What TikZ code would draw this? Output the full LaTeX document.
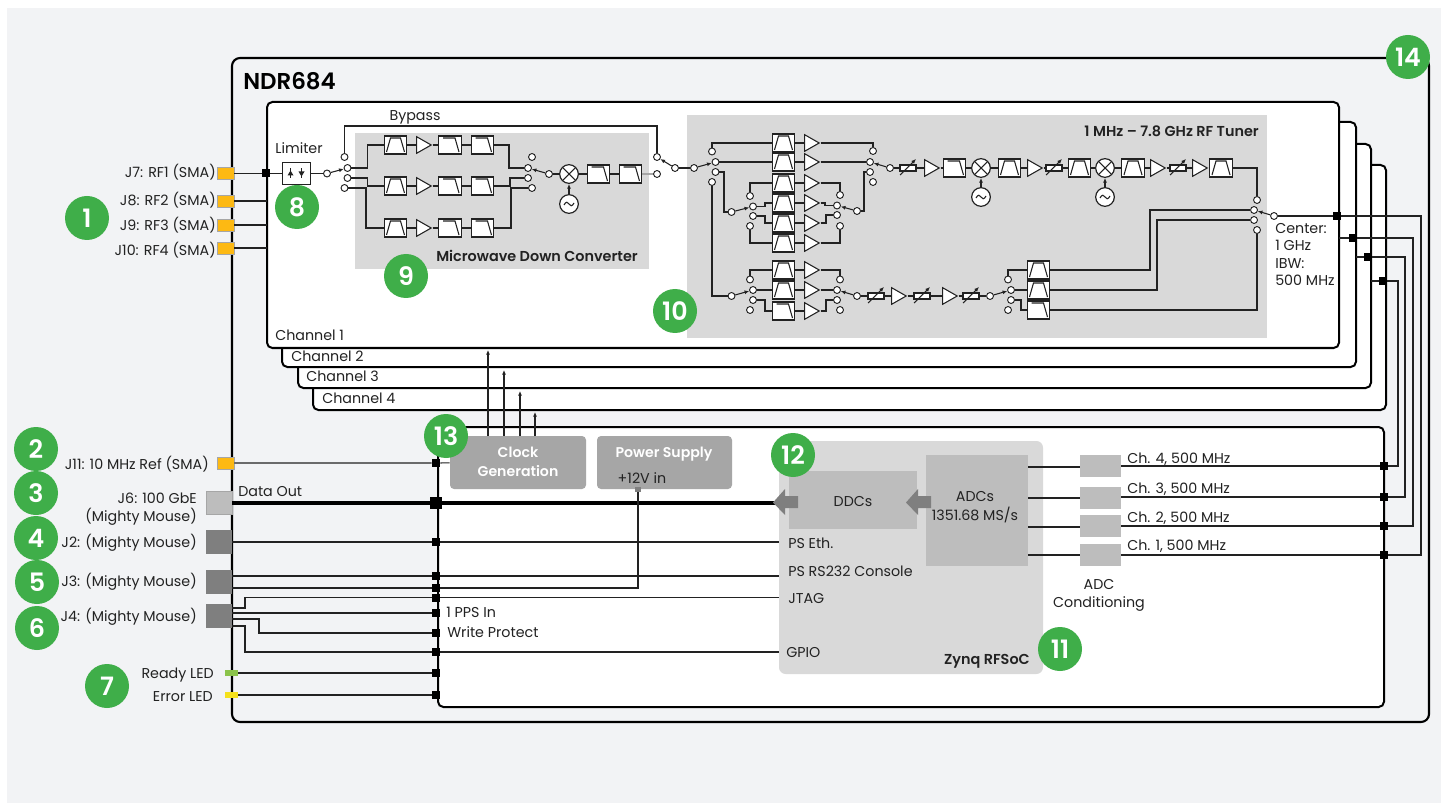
\documentclass[tikz,border=0pt]{standalone}
\usepackage{fontspec}
\setmainfont[BoldFont={Poppins SemiBold}]{Poppins}
\usetikzlibrary{arrows.meta,shapes.geometric}

\definecolor{panelgray}{HTML}{F2F3F5}
\definecolor{zonegray}{HTML}{D9D9D9}
\definecolor{blockgray}{HTML}{BDBDBD}
\definecolor{portgray}{HTML}{7F7F7F}
\definecolor{clockgray}{HTML}{A6A6A6}
\definecolor{smaorange}{HTML}{FDB913}
\definecolor{badgegreen}{HTML}{3FAE49}
\definecolor{ledgreen}{HTML}{8BC34A}
\definecolor{ledyellow}{HTML}{F5E11C}
\definecolor{inkblack}{HTML}{222222}

\tikzset{
  lab/.style={font=\fontsize{10.7}{12}\selectfont, text=inkblack, inner sep=0pt, text height=8.5pt, text depth=1.5pt},
  titlelab/.style={font=\fontsize{10.8}{12}\selectfont\bfseries, text=inkblack, inner sep=0pt, text height=8.5pt, text depth=1.5pt},
  boxlab/.style={font=\fontsize{10.6}{12}\selectfont\bfseries, text=white, inner sep=0pt, text height=8.5pt, text depth=1.5pt},
  badge/.style={circle, fill=badgegreen, minimum size=33pt, inner sep=0pt, text=white, font=\fontsize{19}{19}\selectfont\bfseries},
  junc/.style={rectangle, fill=black, minimum size=6pt, inner sep=0pt},
  port/.style={rectangle, minimum width=#1, inner sep=0pt},
  wire/.style={line width=0.8pt, draw=inkblack},
  frame/.style={line width=1.5pt, draw=black, rounded corners=4pt},
  tune/.style={line width=0.8pt, draw=inkblack, -{Latex[length=3.5pt,width=3pt]}},
  contact/.style={circle, draw=inkblack, fill=white, line width=0.7pt, minimum size=5.2pt, inner sep=0pt},
  filt/.style={rectangle, draw=inkblack, fill=white, line width=0.9pt, minimum width=17pt, minimum height=13.5pt, inner sep=0pt},
  bpf/.style={filt, path picture={
    \draw[wire, shift={(path picture bounding box.center)}] (-9,7) -- (-5,-7) -- (5,-7) -- (9,7);}},
  lpf/.style={filt, path picture={
    \draw[wire, shift={(path picture bounding box.center)}] (-7,-7) -- (5,-7) -- (9,7);}},
  amp/.style={isosceles triangle, isosceles triangle stretches, shape border rotate=0, anchor=lower side,
    draw=inkblack, fill=white, line width=0.8pt, minimum width=12.5pt, minimum height=11pt, inner sep=0pt},
  mixer/.style={circle, draw=inkblack, fill=white, line width=0.9pt, minimum size=14pt, inner sep=0pt, path picture={
    \draw[wire, shift={(path picture bounding box.center)}] (-8,-8) -- (8,8) (-8,8) -- (8,-8);}},
  osc/.style={circle, draw=inkblack, fill=white, line width=0.9pt, minimum size=14pt, inner sep=0pt, path picture={
    \draw[wire, shift={(path picture bounding box.center)}] (-5,1) .. controls (-3,-3) and (-1,-2) .. (0,0) .. controls (1,2) and (3,3) .. (5,-1);}},
  atten/.style={rectangle, draw=inkblack, fill=white, line width=0.8pt, minimum width=12pt, minimum height=4.5pt, inner sep=0pt,
    append after command={(\tikzlastnode.center) ++(-8,7) edge[tune] ++(16,-16)}},
  limiter/.style={rectangle, draw=inkblack, fill=white, line width=0.9pt, minimum width=21.5pt, minimum height=16.5pt, inner sep=0pt, path picture={
    \draw[wire, shift={(path picture bounding box.center)}] (-6,-5) -- (-6,5) (5,-5) -- (5,5);
    \fill[inkblack, shift={(path picture bounding box.center)}] (-9,2) -- (-3,2) -- (-6,-3) -- cycle (2,-2) -- (8,-2) -- (5,3) -- cycle;}}
}

\begin{document}
\begin{tikzpicture}[x=0.75pt,y=-0.75pt]

    \useasboundingbox (0,0) rectangle (1448,805);

    % Panel
    \fill[panelgray] (7,8) rectangle (1441,803);

    % NDR684 enclosure
    \draw[frame, line width=1.6pt, fill=panelgray, rounded corners=6pt] (232,58) rectangle (1429,722);
    \node[anchor=west, inner sep=0pt, text=black, font=\fontsize{17.2}{18}\selectfont\bfseries] (ndrlab) at (243,81) {NDR684};

    % Channel frames
    \draw[frame, fill=white] (313,165) rectangle (1386,410);
    \draw[frame, fill=white] (298,144) rectangle (1371,388);
    \draw[frame, fill=white] (282,122) rectangle (1356,367);
    \draw[frame, fill=white] (267,102) rectangle (1339,348);
    \node[lab, anchor=west] (chlab1) at (275,336) {Channel 1};
    \node[lab, anchor=west] (chlab2) at (291,357) {Channel 2};
    \node[lab, anchor=west] (chlab3) at (306,377) {Channel 3};
    \node[lab, anchor=west] (chlab4) at (322,399) {Channel 4};

    % Digital frame
    \draw[frame, fill=white] (438,427) rectangle (1384,707);

    % Grey zones
    \fill[zonegray] (355,133) rectangle (649,269);
    \fill[zonegray] (687,115) rectangle (1267,338);
    \node[titlelab, anchor=east] (mwclab) at (638,257) {Microwave Down Converter};
    \node[titlelab, anchor=east] (tunerlab) at (1259,132) {1 MHz – 7.8 GHz RF Tuner};

    % RF ports
    \node[port=13pt, minimum height=9pt, fill=smaorange, draw=clockgray, line width=0.4pt] (j7) at (225.5,173.5) {};
    \node[port=13pt, minimum height=9pt, fill=smaorange, draw=clockgray, line width=0.4pt] (j8) at (225.5,201) {};
    \node[port=13pt, minimum height=9pt, fill=smaorange, draw=clockgray, line width=0.4pt] (j9) at (225.5,225) {};
    \node[port=13pt, minimum height=9pt, fill=smaorange, draw=clockgray, line width=0.4pt] (j10) at (225.5,248) {};
    \node[lab, anchor=east] (j7lab) at (216,173) {J7: RF1 (SMA)};
    \node[lab, anchor=east] (j8lab) at (216,201) {J8: RF2 (SMA)};
    \node[lab, anchor=east] (j9lab) at (216,226) {J9: RF3 (SMA)};
    \node[lab, anchor=east] (j10lab) at (216,251) {J10: RF4 (SMA)};
    \coordinate (ch8) at (267,201);
    \coordinate (ch9) at (267,225);
    \coordinate (ch10) at (267,248);
    \draw[wire] (j8) -- (ch8);
    \draw[wire] (j9) -- (ch9);
    \draw[wire] (j10) -- (ch10);

    % Limiter
    \node[junc] (jrf) at (266,173.5) {};
    \node[limiter] (lim) at (296.5,173.5) {};
    \node[lab] (limlab) at (299,149) {Limiter};
    \node[lab] (bypasslab) at (415,116) {Bypass};
    \draw[wire] (j7) -- (jrf) -- (lim);

    % Input switch of the down converter
    \node[contact] (mpole) at (327,173.5) {};
    \node[contact] (mca) at (344.5,157) {};
    \node[contact] (mcb) at (347.5,168) {};
    \node[contact] (mcc) at (347.5,178) {};
    \node[contact] (mcd) at (344.5,188) {};
    \draw[wire] (lim) -- (mpole);
    \draw[tune] (mpole) -- (mcb);

    % Down converter rows
    \node[bpf] (mb1) at (395.5,145) {};
    \node[amp] (ma1) at (416,145) {};
    \node[lpf] (ml1) at (450,145) {};
    \node[lpf] (mm1) at (482.5,145) {};
    \node[bpf] (mb2) at (395.5,186) {};
    \node[amp] (ma2) at (416,186) {};
    \node[lpf] (ml2) at (450,186) {};
    \node[lpf] (mm2) at (482.5,186) {};
    \node[bpf] (mb3) at (395.5,228) {};
    \node[amp] (ma3) at (416,228) {};
    \node[lpf] (ml3) at (450,228) {};
    \node[lpf] (mm3) at (482.5,228) {};
    \draw[wire] (mb1) -- (ma1) -- (ml1) -- (mm1);
    \draw[wire] (mb2) -- (ma2) -- (ml2) -- (mm2);
    \draw[wire] (mb3) -- (ma3) -- (ml3) -- (mm3);

    % Output switch of the down converter
    \node[contact] (mda) at (532,157) {};
    \node[contact] (mdb) at (528,168) {};
    \node[contact] (mdc) at (528,178) {};
    \node[contact] (mdd) at (532,188) {};
    \node[contact] (mdpole) at (549,174) {};
    \draw[tune] (mdpole) -- (mdb);
    \draw[wire] (mcb) -- (367.5,168) |- (mb1);
    \draw[wire] (mcc) -- (367.5,178) |- (mb2);
    \draw[wire] (mcd) -- (366,188) |- (mb3);
    \draw[wire] (mm1) -- (509,145) |- (mdb);
    \draw[wire] (mm2) -- (510,186) |- (mdc);
    \draw[wire] (mm3) -- (511,228) |- (mdd);

    % Down converter mixer
    \node[mixer] (mmix) at (569,174) {};
    \node[osc] (mosc) at (569,204) {};
    \node[lpf] (mo1) at (598.5,174) {};
    \node[lpf] (mo2) at (630.5,174) {};
    \node[contact] (ba) at (657,157) {};
    \node[contact] (bb) at (657,174) {};
    \node[contact] (bpole) at (675,168) {};
    \draw[wire] (mdpole) -- (mmix) -- (mo1) -- (mo2);
    \draw[tune] (mosc) -- (mmix);
    \draw[wire, draw=clockgray] (mo2) -- (bb);
    \draw[tune] (bpole) -- (ba);
    \draw[wire] (mca) |- (657,126) -- (ba);

    % Tuner input switch
    \node[contact] (tpole) at (694,168) {};
    \node[contact] (tca) at (712,151.5) {};
    \node[contact] (tcb) at (715.5,162) {};
    \node[contact] (tcc) at (715.5,172) {};
    \node[contact] (tcd) at (712,182) {};
    \draw[wire] (bpole) -- (tpole);
    \draw[tune] (tpole) -- (tcb);

    % Filter bank
    \node[bpf] (bk1) at (783.5,143) {};
    \node[amp] (ak1) at (804,143) {};
    \node[bpf] (bk2) at (783.5,162) {};
    \node[amp] (ak2) at (804,162) {};
    \node[bpf] (bk3) at (783.5,183) {};
    \node[amp] (ak3) at (804,183) {};
    \node[bpf] (bk4) at (783.5,203) {};
    \node[amp] (ak4) at (804,203) {};
    \node[bpf] (bk5) at (783.5,223) {};
    \node[amp] (ak5) at (804,223) {};
    \node[bpf] (bk6) at (783.5,243) {};
    \node[amp] (ak6) at (804,243) {};
    \node[bpf] (bk7) at (783.5,270) {};
    \node[amp] (ak7) at (804,270) {};
    \node[bpf] (bk8) at (783.5,290) {};
    \node[amp] (ak8) at (804,290) {};
    \node[lpf] (bk9) at (783.5,311) {};
    \node[amp] (ak9) at (804,311) {};
    \draw[wire] (bk1) -- (ak1);
    \draw[wire] (bk2) -- (ak2);
    \draw[wire] (bk3) -- (ak3);
    \draw[wire] (bk4) -- (ak4);
    \draw[wire] (bk5) -- (ak5);
    \draw[wire] (bk6) -- (ak6);
    \draw[wire] (bk7) -- (ak7);
    \draw[wire] (bk8) -- (ak8);
    \draw[wire] (bk9) -- (ak9);

    % Upper sub switches
    \node[contact] (spole) at (731.5,212) {};
    \node[contact] (sca) at (750,196) {};
    \node[contact] (scb) at (753,206.5) {};
    \node[contact] (scc) at (753,216) {};
    \node[contact] (scd) at (750,226) {};
    \node[contact] (sda) at (840,195) {};
    \node[contact] (sdb) at (837,205.5) {};
    \node[contact] (sdc) at (837,215) {};
    \node[contact] (sdd) at (840,226) {};
    \node[contact] (sdpole) at (857,211) {};
    \draw[tune] (spole) -- (scb);
    \draw[tune] (sdpole) -- (sdb);

    % Main bank output switch
    \node[contact] (uda) at (873,151) {};
    \node[contact] (udb) at (870,162) {};
    \node[contact] (udc) at (870,172) {};
    \node[contact] (udd) at (873,182) {};
    \node[contact] (udpole) at (890,168) {};
    \draw[tune] (udpole) -- (udb);

    % Upper bank wiring
    \draw[wire] (tca) |- (bk1);
    \draw[wire] (tcb) -- (bk2);
    \draw[wire] (tcc) -- (724,172) |- (spole);
    \draw[wire] (sca) |- (bk3);
    \draw[wire] (scb) -- (765,206.5) |- (bk4);
    \draw[wire] (scc) -- (765,216) |- (bk5);
    \draw[wire] (scd) |- (bk6);
    \draw[wire] (ak1) -| (uda);
    \draw[wire] (ak2) -- (udb);
    \draw[wire] (ak3) -| (sda);
    \draw[wire] (ak4) -- (825,203) |- (sdb);
    \draw[wire] (ak5) -- (826,223) |- (sdc);
    \draw[wire] (ak6) -| (sdd);
    \draw[wire] (sdpole) -- (864,211) |- (udc);

    % Lower sub switches
    \node[contact] (lpole) at (731.5,296) {};
    \node[contact] (lca) at (750,279.5) {};
    \node[contact] (lcb) at (753,290) {};
    \node[contact] (lcc) at (753,300) {};
    \node[contact] (lcd) at (750,310) {};
    \node[contact] (lda) at (840,279.5) {};
    \node[contact] (ldb) at (837,290) {};
    \node[contact] (ldc) at (837,300) {};
    \node[contact] (ldd) at (840,310) {};
    \node[contact] (ldpole) at (857,296) {};
    \draw[tune] (lpole) -- (lcb);
    \draw[tune] (ldpole) -- (ldb);
    \draw[wire] (tcd) |- (lpole);
    \draw[wire] (lca) |- (bk7);
    \draw[wire] (lcb) -- (bk8);
    \draw[wire] (lcc) -- (765,300) |- (bk9);
    \draw[wire] (ak7) -| (lda);
    \draw[wire] (ak8) -- (ldb);
    \draw[wire] (ak9) -- (826,311) |- (ldc);

    % Lower tuner row
    \node[atten] (lt1) at (876,296) {};
    \node[amp] (lg1) at (891,296) {};
    \node[atten] (lt2) at (922,296) {};
    \node[amp] (lg2) at (942,296) {};
    \node[atten] (lt3) at (971,296) {};
    \node[contact] (epole) at (990,296) {};
    \draw[wire] (ldpole) -- (lt1) -- (lg1) -- (lt2) -- (lg2) -- (lt3) -- (epole);

    % Preselect filters
    \node[contact] (eca) at (1008,279.5) {};
    \node[contact] (ecb) at (1011,290) {};
    \node[contact] (ecc) at (1011,300) {};
    \node[contact] (ecd) at (1008,310) {};
    \node[bpf] (ef1) at (1038.5,270) {};
    \node[bpf] (ef2) at (1038.5,290) {};
    \node[lpf] (ef3) at (1038.5,310) {};
    \draw[tune] (epole) -- (ecb);
    \draw[wire] (eca) |- (ef1);
    \draw[wire] (ecb) -- (ef2);
    \draw[wire] (ecc) -- (1021,300) |- (ef3);

    % Upper tuner row
    \node[atten] (ut1) at (908,168) {};
    \node[amp] (ug1) at (924,168) {};
    \node[lpf] (uf1) at (954.5,168) {};
    \node[mixer] (umix1) at (981,168) {};
    \node[osc] (uosc1) at (981,197) {};
    \node[bpf] (uf2) at (1009.5,168) {};
    \node[amp] (ug2) at (1027,168) {};
    \node[atten] (ut2) at (1054,168) {};
    \node[bpf] (uf3) at (1079.5,168) {};
    \node[mixer] (umix2) at (1105,168) {};
    \node[osc] (uosc2) at (1105,197) {};
    \node[bpf] (uf4) at (1133,168) {};
    \node[amp] (ug3) at (1150,168) {};
    \node[atten] (ut3) at (1178,168) {};
    \node[amp] (ug4) at (1192,168) {};
    \node[bpf] (uf5) at (1221,168) {};
    \draw[wire] (udpole) -- (ut1) -- (ug1) -- (uf1) -- (umix1) -- (uf2) -- (ug2) -- (ut2) -- (uf3) -- (umix2) -- (uf4) -- (ug3) -- (ut3) -- (ug4) -- (uf5);
    \draw[tune] (uosc1) -- (umix1);
    \draw[tune] (uosc2) -- (umix2);

    % Tuner output switch
    \node[contact] (oca) at (1257,200) {};
    \node[contact] (ocb) at (1254,210) {};
    \node[contact] (occ) at (1254,220) {};
    \node[contact] (ocd) at (1257,230) {};
    \node[contact] (opole) at (1274,216) {};
    \draw[tune] (opole) -- (ocb);
    \draw[wire] (uf5) -| (oca);
    \draw[wire] (ef1) -- (1150,270) |- (ocb);
    \draw[wire] (ef2) -- (1157,290) |- (occ);
    \draw[wire] (ef3) -| (ocd);
    \node[lab, anchor=west] (centerlab) at (1275,229) {Center:};
    \node[lab, anchor=west] (ghzlab) at (1275,246) {1 GHz};
    \node[lab, anchor=west] (ibwlab) at (1275,264) {IBW:};
    \node[lab, anchor=west] (mhzlab) at (1275,281) {500 MHz};

    % Channel outputs
    \node[junc] (qa) at (1337,216) {};
    \node[junc] (qb) at (1353,238) {};
    \node[junc] (qc) at (1368,257) {};
    \node[junc] (qd) at (1383,281) {};
    \coordinate (qb0) at (1339,238);
    \coordinate (qc0) at (1356,257);
    \coordinate (qd0) at (1371,281);

    % Clock and power
    \node[rectangle, rounded corners=3pt, fill=clockgray, minimum width=102pt, minimum height=39.75pt, inner sep=0pt] (clock) at (518,462.5) {};
    \node[rectangle, rounded corners=3pt, fill=clockgray, minimum width=101.25pt, minimum height=39.75pt, inner sep=0pt] (power) at (664.5,462.5) {};
    \node[boxlab] (clocklab1) at (518,453) {Clock};
    \node[boxlab] (clocklab2) at (518,472) {Generation};
    \node[boxlab] (powerlab) at (664,453) {Power Supply};
    \node[lab] (pwrin) at (642,479) {+12V in};
    \node[rectangle, fill=portgray, minimum width=5pt, minimum height=4pt, inner sep=0pt] (psin) at (638,489.5) {};
    \coordinate (ck1) at (488,350);
    \coordinate (ck2) at (504,370);
    \coordinate (ck3) at (520,391);
    \coordinate (ck4) at (535,412);
    \draw[tune] (clock.north -| ck1) -- (ck1);
    \draw[tune] (clock.north -| ck2) -- (ck2);
    \draw[tune] (clock.north -| ck3) -- (ck3);
    \draw[tune] (clock.north -| ck4) -- (ck4);

    % Zynq RFSoC
    \node[rectangle, rounded corners=5pt, fill=zonegray, minimum width=198pt, minimum height=174.75pt, inner sep=0pt] (zynq) at (911,557.5) {};
    \node[rectangle, fill=blockgray, minimum width=96pt, minimum height=43.5pt, inner sep=0pt] (ddc) at (853,500) {};
    \node[rectangle, fill=blockgray, minimum width=76.5pt, minimum height=83.25pt, inner sep=0pt] (adc) at (977,510.5) {};
    \node[lab] (ddclab) at (853,502) {DDCs};
    \node[lab] (adclab1) at (975,497) {ADCs};
    \node[lab] (adclab2) at (975,516) {1351.68 MS/s};
    \node[titlelab, anchor=east] (zynqlab) at (1030,660) {Zynq RFSoC};
    \node[lab, anchor=west] (ethlab) at (788,544) {PS Eth.};
    \node[lab, anchor=west] (rs232lab) at (788,572) {PS RS232 Console};
    \node[lab, anchor=west] (jtaglab) at (788,599) {JTAG};
    \node[lab, anchor=west] (gpiolab) at (786,653) {GPIO};

    % Left ports of the digital frame
    \node[port=13pt, minimum height=9pt, fill=smaorange, draw=clockgray, line width=0.4pt] (j11) at (225.5,463) {};
    \node[port=19.5pt, minimum height=17pt, fill=blockgray, draw=clockgray, line width=0.5pt] (j6) at (219,502.5) {};
    \node[port=19.5pt, minimum height=18pt, fill=portgray] (j2) at (219,542) {};
    \node[port=19.5pt, minimum height=18pt, fill=portgray] (j3) at (219,582) {};
    \node[port=19.5pt, minimum height=18pt, fill=portgray] (j4) at (219,616) {};
    \node[port=10pt, minimum height=4.5pt, fill=ledgreen] (ledr) at (231.5,673) {};
    \node[port=10pt, minimum height=4.5pt, fill=ledyellow] (lede) at (231.5,695) {};
    \node[lab, anchor=east] (j11lab) at (209,465) {J11: 10 MHz Ref (SMA)};
    \node[lab, anchor=east] (j6lab1) at (197,499) {J6: 100 GbE};
    \node[lab, anchor=east] (j6lab2) at (197,517) {(Mighty Mouse)};
    \node[lab, anchor=east] (j2lab) at (197,543) {J2: (Mighty Mouse)};
    \node[lab, anchor=east] (j3lab) at (197,582) {J3: (Mighty Mouse)};
    \node[lab, anchor=east] (j4lab) at (197,617) {J4: (Mighty Mouse)};
    \node[lab, anchor=east] (readylab) at (214,674) {Ready LED};
    \node[lab, anchor=east] (errorlab) at (213,697) {Error LED};
    \node[lab, anchor=west] (datalab) at (238,492) {Data Out};
    \node[lab, anchor=west] (ppslab) at (446,613) {1 PPS In};
    \node[lab, anchor=west] (wplab) at (447,633) {Write Protect};

    % Left junctions
    \node[junc] (qref) at (436,463) {};
    \node[junc, minimum size=9pt] (qdata) at (436,503) {};
    \node[junc] (qeth) at (436,542) {};
    \node[junc] (qrs) at (436,576) {};
    \node[junc] (qpwr) at (436,588) {};
    \node[junc] (qjtag) at (436,597.5) {};
    \node[junc] (qpps) at (436,613) {};
    \node[junc] (qwp) at (436,633) {};
    \node[junc] (qgpio) at (436,652) {};
    \node[junc] (qrdy) at (436,673) {};
    \node[junc] (qerr) at (436,695) {};
    \coordinate (dout) at (780,503);
    \coordinate (zeth) at (779,542);
    \coordinate (zrs) at (779,576);
    \coordinate (zjtag) at (779,597.5);
    \coordinate (zgpio) at (779,652);
    \coordinate (j3a) at (232,576);
    \coordinate (j3b) at (232,588);
    \coordinate (j4a) at (232,608);
    \coordinate (j4b) at (232,613);
    \coordinate (j4c) at (232,619);
    \coordinate (j4d) at (232,626);
    \draw[wire] (j11) -- (qref) -- (clock);
    \draw[line width=3pt, draw=black] (j6.east |- qdata) -- (qdata) -- (dout);
    \draw[wire] (j2) -- (qeth) -- (zeth);
    \draw[wire] (j3a) -- (qrs) -- (zrs);
    \draw[wire] (j3b) -- (qpwr) -| (psin);
    \draw[wire] (j4a) -- (245,608) |- (qjtag) -- (zjtag);
    \draw[wire] (j4b) -- (qpps);
    \draw[wire] (j4c) -- (259,619) |- (qwp);
    \draw[wire] (j4d) -- (245,626) |- (qgpio) -- (zgpio);
    \draw[wire] (ledr) -- (qrdy);
    \draw[wire] (lede) -- (qerr);

    % Arrows of the data path
    \fill[portgray] (798,496) -- (785,496) -- (785,489) -- (773,502.5) -- (785,515) -- (785,508) -- (798,508) -- cycle;
    \fill[portgray] (931,496) -- (918,496) -- (918,489) -- (906,502.5) -- (918,515) -- (918,508) -- (931,508) -- cycle;

    % ADC conditioning
    \node[rectangle, fill=blockgray, minimum width=30.75pt, minimum height=16.5pt, inner sep=0pt] (cond4) at (1100.5,466) {};
    \node[rectangle, fill=blockgray, minimum width=30.75pt, minimum height=16.5pt, inner sep=0pt] (cond3) at (1100.5,497.5) {};
    \node[rectangle, fill=blockgray, minimum width=30.75pt, minimum height=16.5pt, inner sep=0pt] (cond2) at (1100.5,526) {};
    \node[rectangle, fill=blockgray, minimum width=30.75pt, minimum height=16.5pt, inner sep=0pt] (cond1) at (1100.5,555) {};
    \node[lab, anchor=west] (chout4) at (1127,459) {Ch. 4, 500 MHz};
    \node[lab, anchor=west] (chout3) at (1127,489) {Ch. 3, 500 MHz};
    \node[lab, anchor=west] (chout2) at (1127,518) {Ch. 2, 500 MHz};
    \node[lab, anchor=west] (chout1) at (1127,546) {Ch. 1, 500 MHz};
    \node[lab] (condlab1) at (1099,585) {ADC};
    \node[lab] (condlab2) at (1099,603) {Conditioning};
    \coordinate (adc4) at (1028,467);
    \coordinate (adc3) at (1028,498);
    \coordinate (adc2) at (1028,527);
    \coordinate (adc1) at (1028,555);
    \draw[wire] (adc4) -- (cond4.west |- adc4);
    \draw[wire] (adc3) -- (cond3.west |- adc3);
    \draw[wire] (adc2) -- (cond2.west |- adc2);
    \draw[wire] (adc1) -- (cond1.west |- adc1);

    % Right junctions and returns
    \node[junc] (qch4) at (1384,466) {};
    \node[junc] (qch3) at (1384,497) {};
    \node[junc] (qch2) at (1384,526) {};
    \node[junc] (qch1) at (1384,555) {};
    \draw[wire] (cond1.east |- qch1) -- (qch1) -- (1421,555) |- (qa) -- (opole);
    \draw[wire] (cond2.east |- qch2) -- (qch2) -- (1413,526) |- (qb) -- (qb0);
    \draw[wire] (cond3.east |- qch3) -- (qch3) -- (1405,497) |- (qc) -- (qc0);
    \draw[wire] (cond4.east |- qch4) -- (qch4) -- (1398,466) |- (qd) -- (qd0);

    % Badges
    \node[badge] (bdg1) at (87,218) {1};
    \node[badge] (bdg2) at (36,449) {2};
    \node[badge] (bdg3) at (36,493) {3};
    \node[badge] (bdg4) at (36,538) {4};
    \node[badge] (bdg5) at (37,582) {5};
    \node[badge] (bdg6) at (37,628) {6};
    \node[badge] (bdg7) at (107,686) {7};
    \node[badge] (bdg8) at (297,207) {8};
    \node[badge] (bdg9) at (406,276) {9};
    \node[badge] (bdg10) at (675,311) {10};
    \node[badge] (bdg11) at (1060,649) {11};
    \node[badge] (bdg12) at (793,455) {12};
    \node[badge] (bdg13) at (446,436) {13};
    \node[badge] (bdg14) at (1408,57) {14};

\end{tikzpicture}
\end{document}
